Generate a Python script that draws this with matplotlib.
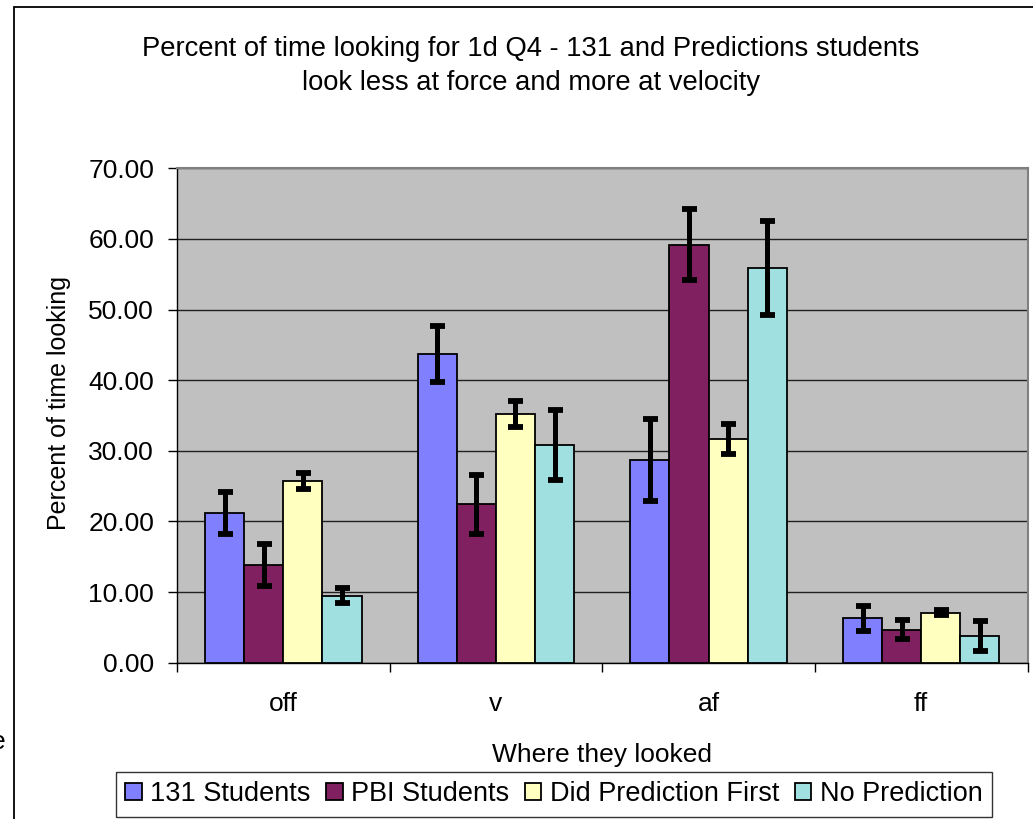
import numpy as np
import matplotlib
matplotlib.use('Agg')
import matplotlib.pyplot as plt
from matplotlib.patches import Rectangle

# data
categories = ['off', 'v', 'af', 'ff']
series_names = ['131 Students', 'PBI Students', 'Did Prediction First', 'No Prediction']
students_131 = [21.2, 43.7, 28.7, 6.3]
students_131_err = [3.0, 3.95, 5.8, 1.75]
students_pbi = [13.8, 22.4, 59.2, 4.7]
students_pbi_err = [3.0, 4.2, 5.0, 1.35]
prediction_first = [25.7, 35.2, 31.7, 7.1]
prediction_first_err = [1.15, 1.85, 2.1, 0.4]
no_prediction = [9.5, 30.8, 55.9, 3.8]
no_prediction_err = [1.1, 5.0, 6.65, 2.1]
y_ticks = [0, 10, 20, 30, 40, 50, 60, 70]

colors = ['#8080FF', '#802060', '#FFFFC0', '#A0E0E0']

plt.rcParams['font.family'] = ['Liberation Sans', 'DejaVu Sans']

W, H = 1033, 819
fig = plt.figure(figsize=(W / 100, H / 100), dpi=100)
fig.patch.set_facecolor('white')

# plot area in pixels: left 177, right 1027.5, top 168.3, bottom 662.7
axs = fig.add_axes([177 / W, 1 - 662.7 / H, (1027.5 - 177) / W, (662.7 - 168.3) / H])
axs.set_facecolor('#C0C0C0')

x = np.arange(len(categories))
width = 0.184
values = [students_131, students_pbi, prediction_first, no_prediction]
errors = [students_131_err, students_pbi_err, prediction_first_err, no_prediction_err]
for i in range(len(values)):
    offset = (i - 1.5) * width
    axs.bar(x + offset, values[i], width, color=colors[i], edgecolor='black',
            linewidth=1.3, label=series_names[i], zorder=3)
    axs.errorbar(x + offset, values[i], yerr=errors[i], fmt='none', ecolor='black',
                 elinewidth=3.6, capsize=5.4, capthick=4.2, zorder=4)

axs.set_xlim(-0.5, 3.5)
axs.set_ylim(0, 70)
axs.set_yticks(y_ticks)
axs.set_yticklabels(['%.2f' % v for v in y_ticks])
axs.yaxis.grid(True, color='#202020', linewidth=1.0, zorder=1)
axs.set_axisbelow(True)

axs.set_xticks(x)
axs.set_xticklabels(categories)
axs.set_xticks(np.arange(-0.5, 4.0, 1.0), minor=True)
axs.tick_params(axis='x', which='major', length=0, pad=21, labelsize=19)
axs.tick_params(axis='x', which='minor', length=6.5, width=1.0, direction='out')
axs.tick_params(axis='y', length=6.5, width=1.0, direction='out', pad=10, labelsize=19)

for side in ['left', 'bottom']:
    axs.spines[side].set_color('black')
    axs.spines[side].set_linewidth(1.0)
for side in ['top', 'right']:
    axs.spines[side].set_color('#808080')
    axs.spines[side].set_linewidth(1.5)

axs.set_xlabel('Where they looked', fontsize=19)
axs.xaxis.set_label_coords(0.5, (662.7 - 762) / (662.7 - 168.3))
axs.xaxis.label.set_va('baseline')
axs.set_ylabel('Percent of time looking', fontsize=18)
axs.yaxis.set_label_coords((59 - 177) / (1027.5 - 177), (662.7 - 402.5) / (662.7 - 168.3))
axs.yaxis.label.set_va('center')

fig.text(531 / W, 1 - 66 / H,
         'Percent of time looking for 1d Q4 - 131 and Predictions students\n'
         'look less at force and more at velocity',
         ha='center', va='center', fontsize=19.7, linespacing=1.35)

handles, labels = axs.get_legend_handles_labels()
leg = fig.legend(handles, labels, loc='upper left', ncol=4,
                 bbox_to_anchor=(116 / W, 1 - 771.7 / H), bbox_transform=fig.transFigure,
                 borderaxespad=0, borderpad=0.35, fontsize=19.5, frameon=True, fancybox=False,
                 handlelength=0.6, handleheight=0.55, handletextpad=0.3, columnspacing=0.6)
leg.get_frame().set_edgecolor('black')
leg.get_frame().set_linewidth(1.0)

# outer chart border, cut off at right and bottom in the original
fig.patches.append(Rectangle((14 / W, -0.2), 1.2, 1.2 - 7 / H, transform=fig.transFigure,
                             fill=False, edgecolor='black', linewidth=1.3))
# letter clipped at the far left edge, as in the original
fig.text(5 / W, 1 - 742 / H, 'e', ha='right', va='center', fontsize=19)

fig.savefig('out.png', dpi=100)
